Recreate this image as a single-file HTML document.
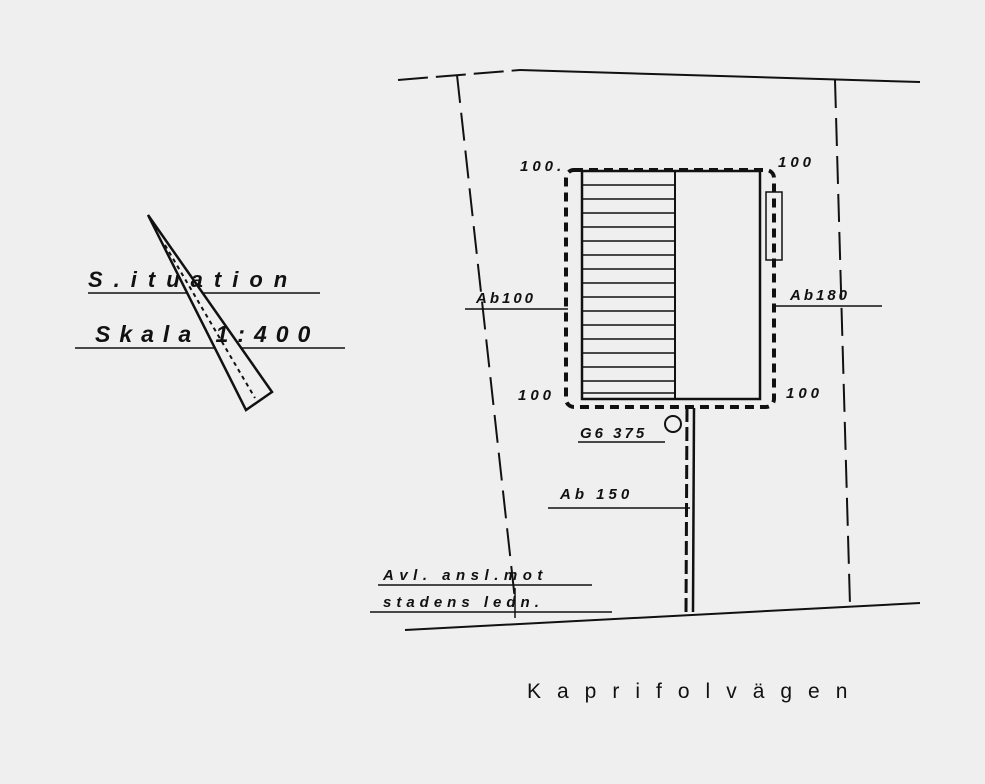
<!DOCTYPE html>
<html><head><meta charset="utf-8"><style>
html,body{margin:0;padding:0;background:#efefef;}
svg{display:block}
text{font-family:"Liberation Sans",sans-serif;font-style:italic;font-weight:bold;fill:#111;}
</style></head><body>
<svg width="985" height="784" viewBox="0 0 985 784">
<rect width="985" height="784" fill="#efefef"/>
<g stroke="#111" fill="none" stroke-width="2">
<path d="M398 80 L520 70" stroke-dasharray="30 8"/>
<path d="M520 70 L920 82"/>
<path d="M457 75 L515 600" stroke-dasharray="28 10"/>
<path d="M835 80 L850 605" stroke-dasharray="28 10"/>
<path d="M405 630 L920 603"/>
<rect x="582" y="171" width="178" height="228" stroke-width="2.5"/>
<line x1="675" y1="171" x2="675" y2="399"/>
<rect x="766" y="192" width="16" height="68" stroke-width="1.5"/>
<rect x="566" y="170" width="208" height="237" rx="8" stroke-width="4" stroke-dasharray="9 6"/>
<path d="M687 408 L686 612" stroke-width="3" stroke-dasharray="14 5"/>
<path d="M694 408 L693 612" stroke-width="2.5"/>
<circle cx="673" cy="424" r="8" stroke-width="2"/>
<line x1="578" y1="442" x2="665" y2="442" stroke-width="1.5"/>
<line x1="465" y1="309" x2="568" y2="309" stroke-width="1.5"/>
<line x1="775" y1="306" x2="882" y2="306" stroke-width="1.5"/>
<line x1="548" y1="508" x2="690" y2="508" stroke-width="1.5"/>
<line x1="378" y1="585" x2="592" y2="585" stroke-width="1.5"/>
<line x1="370" y1="612" x2="612" y2="612" stroke-width="1.5"/>
<line x1="515" y1="588" x2="515" y2="618" stroke-width="1.5"/>
<line x1="88" y1="293" x2="320" y2="293" stroke-width="1.5"/>
<line x1="75" y1="348" x2="345" y2="348" stroke-width="1.5"/>
<path d="M148 215 L272 392 L246 410 Z" stroke-width="2.5" fill="#efefef"/>
<path d="M165 245 L255 398" stroke-width="2" stroke-dasharray="4 4"/>
</g>
<g stroke="#111" stroke-width="1.5">
<line x1="583" y1="185" x2="675" y2="185"/><line x1="583" y1="199" x2="675" y2="199"/>
<line x1="583" y1="213" x2="675" y2="213"/><line x1="583" y1="227" x2="675" y2="227"/>
<line x1="583" y1="241" x2="675" y2="241"/><line x1="583" y1="255" x2="675" y2="255"/>
<line x1="583" y1="269" x2="675" y2="269"/><line x1="583" y1="283" x2="675" y2="283"/>
<line x1="583" y1="297" x2="675" y2="297"/><line x1="583" y1="311" x2="675" y2="311"/>
<line x1="583" y1="325" x2="675" y2="325"/><line x1="583" y1="339" x2="675" y2="339"/>
<line x1="583" y1="353" x2="675" y2="353"/><line x1="583" y1="367" x2="675" y2="367"/>
<line x1="583" y1="381" x2="675" y2="381"/><line x1="583" y1="393" x2="675" y2="393"/>
</g>
<g font-size="15" letter-spacing="4">
<text x="520" y="171">100.</text>
<text x="778" y="167">100</text>
<text x="476" y="303" letter-spacing="3">Ab100</text>
<text x="790" y="300" letter-spacing="3">Ab180</text>
<text x="518" y="400">100</text>
<text x="786" y="398">100</text>
<text x="580" y="438" letter-spacing="3">G6 375</text>
<text x="560" y="499">Ab 150</text>
<text x="383" y="580" letter-spacing="5.5">Avl. ansl.mot</text>
<text x="383" y="607" letter-spacing="5">stadens ledn.</text>
</g>
<text x="88" y="287" font-size="22" letter-spacing="11">S.ituation</text>
<text x="95" y="342" font-size="23" letter-spacing="9">Skala 1:400</text>
<text x="527" y="698" font-size="21" letter-spacing="16" style="font-style:normal;font-weight:normal">Kaprifolvägen</text>
</svg>
</body></html>
